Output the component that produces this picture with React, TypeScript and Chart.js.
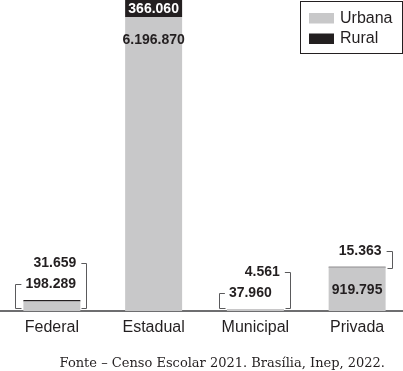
import React, { useEffect, useRef } from 'react';
import { Chart, registerables } from 'chart.js';

Chart.register(...registerables);

const categories = ['Federal', 'Estadual', 'Municipal', 'Privada'];
const urbana = [198289, 6196870, 37960, 919795];
const rural = [31659, 366060, 4561, 15363];
const seriesNames = ['Urbana', 'Rural'];
const sourceText = 'Fonte – Censo Escolar 2021. Brasília, Inep, 2022.';

const GRAY = 'rgb(200,200,201)';
const DARK = 'rgb(35,31,32)';
const LINE = 'rgb(90,90,92)';
const SANS = '"Liberation Sans", Arial, sans-serif';

const fmt = (v: number) => String(v).replace(/\B(?=(\d{3})+(?!\d))/g, '.');

const labelPlugin = {
  id: 'valueLabels',
  afterDatasetsDraw(chart: any) {
    const ctx = chart.ctx as CanvasRenderingContext2D;
    const m0 = chart.getDatasetMeta(0);
    const m1 = chart.getDatasetMeta(1);
    ctx.save();
    ctx.font = `bold 14px ${SANS}`;
    ctx.textBaseline = 'middle';
    ctx.lineWidth = 1;
    ctx.strokeStyle = LINE;
    for (let i = 0; i < categories.length; i++) {
      const u = m0.data[i] as any;
      const r = m1.data[i] as any;
      const half = u.width / 2;
      const left = u.x - half;
      const right = u.x + half;
      const base = u.base;
      const top = r.y;
      const uh = u.base - u.y;
      const rh = r.base - r.y;
      const urbOut = uh < 16;
      const rurOut = rh < 16;
      let k = 0;
      const uText = fmt(urbana[i]);
      const rText = fmt(rural[i]);
      // Urbana
      if (!urbOut) {
        ctx.fillStyle = DARK;
        ctx.textAlign = 'center';
        ctx.fillText(uText, u.x, u.y + 23);
      } else {
        const y = Math.round(top - 16 - 21 * k) + 0.5;
        k++;
        const tl = left + 2;
        ctx.fillStyle = DARK;
        ctx.textAlign = 'left';
        ctx.fillText(uText, tl, y);
        const bx = Math.round(left - 8) + 0.5;
        const by = Math.round(base - 3) + 0.5;
        ctx.beginPath();
        ctx.moveTo(tl - 4, y);
        ctx.lineTo(bx, y);
        ctx.lineTo(bx, by);
        ctx.lineTo(bx + 6, by);
        ctx.stroke();
      }
      // Rural
      if (!rurOut) {
        ctx.fillStyle = '#ffffff';
        ctx.textAlign = 'center';
        ctx.fillText(rText, r.x, (r.y + r.base) / 2 + 0.5);
      } else {
        const y = Math.round(top - 16 - 21 * k) + 0.5;
        k++;
        const tr = right - 4;
        ctx.fillStyle = DARK;
        ctx.textAlign = 'right';
        ctx.fillText(rText, tr, y);
        const bx = Math.round(right + 6) + 0.5;
        const by = Math.round(urbOut ? base - 3 : top + 1) + 0.5;
        ctx.beginPath();
        ctx.moveTo(tr + 5, y);
        ctx.lineTo(bx, y);
        ctx.lineTo(bx, by);
        ctx.lineTo(bx - 5, by);
        ctx.stroke();
      }
    }
    ctx.restore();
  },
  afterDraw(chart: any) {
    const ctx = chart.ctx as CanvasRenderingContext2D;
    ctx.save();
    // legend box
    const bx = 300.5, by = 1.5, bw = 102, bh = 52;
    ctx.strokeStyle = DARK;
    ctx.lineWidth = 1;
    ctx.strokeRect(bx, by, bw, bh);
    const ds = chart.data.datasets;
    ctx.font = `16px ${SANS}`;
    ctx.textBaseline = 'middle';
    ctx.textAlign = 'left';
    const rows = [18, 38.5];
    ds.forEach((d: any, j: number) => {
      ctx.fillStyle = d.backgroundColor;
      ctx.fillRect(309, rows[j] - 5, 25, 10.5);
      ctx.fillStyle = DARK;
      ctx.fillText(d.label, 340, rows[j] + 0.5);
    });
    // source
    ctx.font = `13px "DejaVu Serif", serif`;
    ctx.fillStyle = DARK;
    ctx.textAlign = 'right';
    ctx.textBaseline = 'alphabetic';
    ctx.fillText(sourceText, 385, 367);
    ctx.restore();
  },
};

export default function App() {
  const ref = useRef<HTMLCanvasElement | null>(null);
  useEffect(() => {
    if (!ref.current) return;
    const maxTotal = Math.max(...urbana.map((v, i) => v + rural[i]));
    const chart = new Chart(ref.current, {
      type: 'bar',
      data: {
        labels: categories,
        datasets: [
          { label: seriesNames[0], data: urbana, backgroundColor: GRAY, borderWidth: 0 },
          { label: seriesNames[1], data: rural, backgroundColor: DARK, borderWidth: 0 },
        ],
      },
      options: {
        responsive: false,
        animation: false,
        layout: { padding: { left: 1, right: 2, top: 0, bottom: 0 } },
        datasets: { bar: { categoryPercentage: 1, barPercentage: 0.56 } },
        plugins: { legend: { display: false }, tooltip: { enabled: false } },
        scales: {
          x: {
            stacked: true,
            grid: { display: false, drawTicks: false },
            border: { display: true, color: 'rgb(110,110,112)', width: 2 },
            ticks: { color: DARK, font: { size: 16, family: SANS }, padding: 7 },
            afterFit: (s: any) => { s.height = 60; },
          },
          y: {
            stacked: true,
            display: false,
            min: 0,
            max: maxTotal,
          },
        },
      },
      plugins: [labelPlugin],
    });
    return () => chart.destroy();
  }, []);
  return (
    <div style={{ position: 'fixed', left: 0, top: 0, width: 403, height: 371, overflow: 'hidden', background: '#fff' }}>
      <canvas ref={ref} width={410} height={371} style={{ display: 'block' }} />
    </div>
  );
}
